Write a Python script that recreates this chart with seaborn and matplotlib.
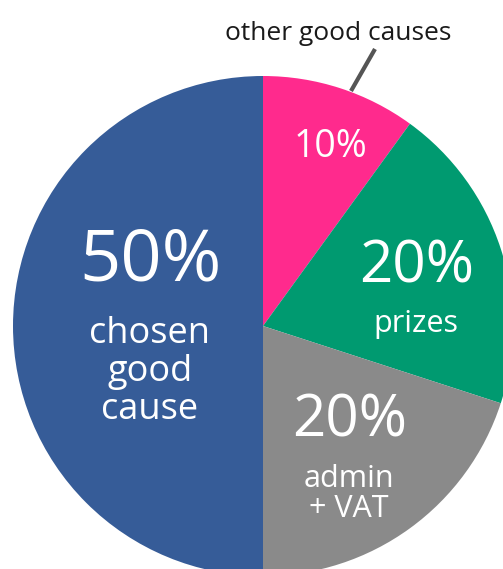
import matplotlib
matplotlib.use('Agg')
import matplotlib.pyplot as plt
import seaborn as sns

# DATA
SHARES = [10, 20, 20, 50]
LABELS = ['other good causes', 'prizes', 'admin\n+ VAT', 'chosen\ngood\ncause']
PCT_LABELS = ['10%', '20%', '20%', '50%']
COLORS = ['#ff2a8d', '#009a70', '#8a8a8a', '#365c98']

W, H = 503, 569
CX, CY, R = 263, 326, 250

sns.set_theme(style='white')
plt.rcParams['font.family'] = ['Open Sans', 'DejaVu Sans']

fig = plt.figure(figsize=(W / 100, H / 100), dpi=100)
ax = fig.add_axes([0, 0, 1, 1])

ax.pie(SHARES, colors=COLORS, startangle=90, counterclock=False,
       center=(CX, H - CY), radius=R, wedgeprops=dict(linewidth=0))
ax.set_xlim(0, W)
ax.set_ylim(0, H)
ax.set_aspect('equal')
ax.axis('off')


def put(x, y, s, size, color='white', **kw):
    ax.text(x, H - y, s, fontsize=size, color=color, ha='center', va='center', **kw)


# big percentages
put(151, 262, PCT_LABELS[3], 52)
put(330, 147, PCT_LABELS[0], 27)
put(417, 267, PCT_LABELS[1], 42)
put(350, 421, PCT_LABELS[2], 42)

# descriptions
put(150, 372, LABELS[3], 26, linespacing=1.08)
put(416, 324, LABELS[1], 22)
put(349, 494, LABELS[2], 22, linespacing=0.98)

# callout
put(338, 33, LABELS[0], 19, color='#1a1a1a')
ax.plot([351, 375], [H - 91, H - 49], color='#555555', lw=3, solid_capstyle='butt')

fig.savefig('out.png', dpi=100)
